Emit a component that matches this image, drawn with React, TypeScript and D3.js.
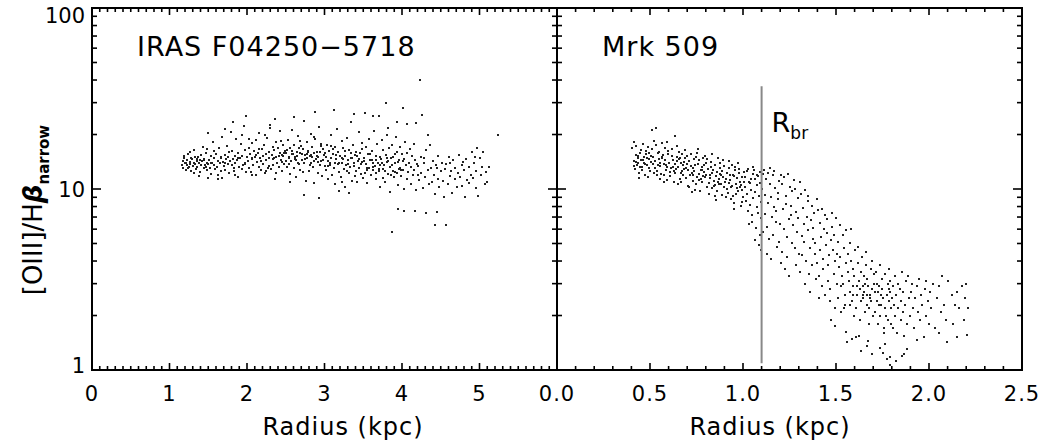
import React from 'react'
import * as d3 from 'd3'

// [OIII]/Hbeta narrow vs radius (kpc, ratio)
const irasPoints: [number, number][] = [
  [1.16,13.6],[1.17,14.2],[1.18,13.1],[1.19,14.8],[1.2,13.9],[1.21,12.8],[1.22,14.4],[1.23,13.5],[1.24,15.6],[1.25,13.2],
  [1.26,14.1],[1.27,13.7],[1.28,12.6],[1.29,14.6],[1.3,13.4],[1.31,14.0],[1.32,16.4],[1.33,13.8],[1.34,12.9],[1.35,14.3],
  [1.36,13.3],[1.37,15.1],[1.38,13.9],[1.39,14.5],[1.4,12.4],[1.41,13.6],[1.42,14.2],[1.43,17.1],[1.44,13.1],[1.45,14.7],
  [1.46,13.5],[1.47,15.8],[1.48,12.7],[1.49,14.0],[1.5,13.7],[1.17,13.0],[1.19,15.3],[1.21,14.0],[1.24,13.0],[1.26,16.1],
  [1.28,14.9],[1.31,12.2],[1.33,15.0],[1.36,14.6],[1.38,11.8],[1.41,15.4],[1.44,14.4],[1.47,13.2],[1.49,16.7],[1.5,20.4],
  [1.5,11.5],[1.68,11.5],[1.85,11.9],[1.72,21.4],[1.82,23.4],[1.99,25.3],[2.36,24.4],[2.3,22.6],
  [1.51,14.5],[1.52,13.0],[1.53,15.2],[1.54,12.1],[1.55,14.0],[1.56,18.2],[1.57,13.6],[1.58,14.8],[1.59,12.9],[1.6,15.6],
  [1.61,13.3],[1.62,14.3],[1.63,11.3],[1.64,16.9],[1.65,13.9],[1.66,14.9],[1.67,12.5],[1.68,19.4],[1.69,14.1],[1.7,13.4],
  [1.71,15.5],[1.72,12.8],[1.73,14.6],[1.74,17.3],[1.75,13.7],[1.76,15.0],[1.77,12.3],[1.78,14.2],[1.79,20.6],[1.8,13.5],
  [1.81,16.2],[1.82,14.7],[1.83,12.6],[1.84,15.3],[1.85,13.9],[1.86,18.8],[1.87,14.4],[1.88,11.6],[1.89,15.9],[1.9,13.2],
  [1.91,14.9],[1.92,17.7],[1.93,12.9],[1.94,15.2],[1.95,13.6],[1.96,22.3],[1.97,14.0],[1.98,16.5],[1.99,12.4],[2.0,15.1],
  [1.53,13.9],[1.58,16.3],[1.62,12.0],[1.67,15.1],[1.72,13.9],[1.77,16.0],[1.83,13.1],[1.88,14.8],[1.93,19.8],[1.98,13.8],
  [2.01,14.2],[2.02,16.8],[2.03,13.1],[2.04,15.7],[2.05,12.4],[2.06,17.9],[2.07,14.6],[2.08,13.5],[2.09,16.2],[2.1,15.0],
  [2.11,11.9],[2.12,18.6],[2.13,14.1],[2.14,15.9],[2.15,13.3],[2.16,20.4],[2.17,14.8],[2.18,12.7],[2.19,16.6],[2.2,15.3],
  [2.21,13.8],[2.22,17.4],[2.23,12.2],[2.24,15.6],[2.25,14.4],[2.26,19.1],[2.27,13.0],[2.28,16.1],[2.29,14.9],[2.3,21.8],
  [2.31,12.9],[2.32,15.4],[2.33,17.0],[2.34,13.6],[2.35,16.4],[2.36,11.4],[2.37,15.1],[2.38,18.2],[2.39,14.0],[2.4,16.9],
  [2.41,13.2],[2.42,15.8],[2.43,20.9],[2.44,14.5],[2.45,12.5],[2.46,17.6],[2.47,15.2],[2.48,13.7],[2.49,16.3],[2.5,14.3],
  [2.03,18.9],[2.07,12.0],[2.12,15.5],[2.18,14.3],[2.23,19.9],[2.28,13.4],[2.33,14.7],[2.38,12.3],[2.44,18.4],[2.48,15.9],
  [2.06,14.9],[2.15,16.7],[2.25,12.6],[2.35,14.9],[2.45,15.4],
  [2.51,16.4],[2.52,13.3],[2.53,18.7],[2.54,15.0],[2.55,12.1],[2.56,16.9],[2.57,14.2],[2.58,21.2],[2.59,15.6],[2.6,13.0],
  [2.61,17.5],[2.62,14.7],[2.63,11.6],[2.64,16.1],[2.65,15.3],[2.66,19.6],[2.67,13.7],[2.68,15.9],[2.69,12.8],[2.7,17.2],
  [2.71,14.4],[2.72,16.6],[2.73,23.9],[2.74,13.9],[2.75,15.5],[2.76,11.1],[2.77,18.1],[2.78,14.8],[2.79,16.3],[2.8,12.6],
  [2.81,15.2],[2.82,20.2],[2.83,14.0],[2.84,17.0],[2.85,13.2],[2.86,15.8],[2.87,10.8],[2.88,18.9],[2.89,14.6],[2.9,16.0],
  [2.91,12.2],[2.92,15.1],[2.93,22.1],[2.94,13.6],[2.95,17.8],[2.96,14.3],[2.97,11.8],[2.98,16.7],[2.99,15.4],[3.0,13.4],
  [2.54,13.8],[2.58,15.7],[2.63,14.5],[2.68,18.4],[2.72,12.4],[2.77,15.7],[2.81,13.5],[2.86,19.4],[2.91,14.1],[2.96,17.3],
  [2.56,10.9],[2.66,14.0],[2.74,9.3],[2.84,15.0],[2.93,8.9],[2.61,25.1],[2.88,26.6],
  [3.01,15.9],[3.02,12.7],[3.03,17.6],[3.04,14.2],[3.05,11.3],[3.06,16.3],[3.07,13.5],[3.08,19.9],[3.09,14.9],[3.1,12.0],
  [3.11,15.6],[3.12,13.1],[3.13,17.1],[3.14,10.6],[3.15,14.6],[3.16,21.5],[3.17,13.8],[3.18,16.0],[3.19,12.4],[3.2,15.2],
  [3.21,11.7],[3.22,18.5],[3.23,14.0],[3.24,16.8],[3.25,12.9],[3.26,15.3],[3.27,10.3],[3.28,13.6],[3.29,19.2],[3.3,14.5],
  [3.31,12.2],[3.32,16.4],[3.33,13.3],[3.34,23.5],[3.35,14.8],[3.36,11.1],[3.37,17.4],[3.38,13.9],[3.39,15.5],[3.4,12.5],
  [3.41,16.1],[3.42,10.9],[3.43,14.3],[3.44,20.7],[3.45,13.0],[3.46,15.8],[3.47,12.1],[3.48,17.9],[3.49,14.1],[3.5,11.5],
  [3.04,13.4],[3.09,17.2],[3.14,14.0],[3.19,9.8],[3.24,14.7],[3.29,12.6],[3.34,15.9],[3.39,11.8],[3.44,14.6],[3.49,16.7],
  [3.12,27.2],[3.38,26.1],[3.22,11.0],[3.31,9.5],
  [2.415,15.2],[2.455,14.1],[2.505,15.8],[2.545,14.9],[2.585,16.2],[2.625,15.0],[2.665,16.8],[2.705,15.6],[2.745,14.6],[2.785,16.0],
  [2.825,15.4],[2.865,14.2],[2.905,15.3],[2.945,16.1],[2.985,14.5],[3.025,15.1],[3.065,14.0],[3.105,16.7],[3.145,15.4],[3.185,13.9],
  [3.225,14.8],[3.265,16.2],[3.305,13.7],[3.345,14.9],[3.385,13.4],[3.425,15.2],[3.465,13.8],[3.505,14.3],[3.545,12.7],[3.585,15.7],
  [3.625,13.3],[3.665,14.5],[3.705,12.9],[3.745,13.9],[3.785,12.6],[3.825,14.3],[3.865,13.5],[3.905,12.4],[3.945,14.1],[3.985,12.7],
  [3.51,14.9],[3.52,12.3],[3.53,17.0],[3.54,13.7],[3.55,10.8],[3.56,15.6],[3.57,13.1],[3.58,19.0],[3.59,14.4],[3.6,11.9],
  [3.61,16.2],[3.62,12.8],[3.63,14.0],[3.64,21.0],[3.65,13.4],[3.66,15.3],[3.67,11.4],[3.68,17.7],[3.69,13.9],[3.7,12.5],
  [3.71,15.0],[3.72,10.2],[3.73,14.7],[3.74,18.6],[3.75,12.9],[3.76,16.5],[3.77,13.6],[3.78,11.0],[3.79,15.4],[3.8,14.1],
  [3.81,20.0],[3.82,12.1],[3.83,16.9],[3.84,13.3],[3.85,9.6],[3.86,14.8],[3.87,17.4],[3.88,12.6],[3.89,15.1],[3.9,11.6],
  [3.91,13.9],[3.92,19.5],[3.93,12.3],[3.94,16.0],[3.95,10.5],[3.96,14.4],[3.97,13.0],[3.98,17.1],[3.99,11.8],[4.0,15.7],
  [4.01,12.8],[4.02,14.6],[4.03,10.0],[4.04,18.2],[4.05,13.5],[4.06,11.3],[4.07,15.9],[4.08,12.4],[4.09,14.0],[4.1,16.6],
  [4.11,10.7],[4.12,13.2],[4.13,15.3],[4.14,11.9],[4.15,17.8],[4.16,12.7],[4.17,14.5],[4.18,9.9],[4.19,13.8],[4.2,12.0],
  [3.55,13.1],[3.61,14.4],[3.66,12.2],[3.71,13.6],[3.76,11.5],[3.81,14.9],[3.86,12.0],[3.91,15.6],[3.96,12.9],[4.01,14.2],
  [3.52,26.3],[3.63,25.3],[3.7,25.3],[3.79,29.8],[4.01,28.0],[4.26,25.6],[4.18,23.2],[4.06,22.9],[3.94,23.4],[3.82,21.7],
  [4.23,40.0],[3.87,5.8],[3.95,7.8],[4.03,7.6],[4.17,7.6],[4.31,7.4],[4.45,7.5],[4.43,6.3],[4.57,6.3],
  [4.21,13.4],[4.22,11.2],[4.24,15.0],[4.25,12.3],[4.27,10.1],[4.28,13.9],[4.3,11.6],[4.31,16.4],[4.33,12.7],[4.34,20.0],
  [4.35,10.6],[4.36,17.5],[4.37,13.1],[4.39,11.0],[4.4,14.3],[4.41,12.0],[4.43,9.4],[4.44,13.6],[4.46,11.4],[4.47,15.2],
  [4.48,10.3],[4.5,12.6],[4.51,14.0],[4.53,11.1],[4.54,9.0],[4.56,12.9],[4.57,13.8],[4.59,10.7],[4.6,15.1],[4.62,11.8],
  [4.63,12.5],[4.65,9.5],[4.66,14.4],[4.68,11.3],[4.69,13.0],[4.71,10.2],[4.72,12.2],[4.74,15.5],[4.75,11.6],[4.77,13.5],
  [4.78,10.4],[4.8,12.8],[4.81,9.0],[4.83,14.6],[4.84,11.2],[4.86,13.2],[4.87,10.8],[4.89,12.0],[4.9,16.0],[4.92,11.5],
  [4.93,13.9],[4.95,10.1],[4.96,12.6],[4.97,16.9],[4.98,9.2],[5.0,14.8],[5.02,11.9],[5.03,13.3],[5.05,16.0],[5.07,10.6],
  [5.09,12.4],[5.12,13.2],[5.1,11.0],[5.24,20.0],[4.29,14.8],[4.45,13.0],[4.62,13.9],[4.79,14.1],[4.94,15.0],
]

const mrkPoints: [number, number][] = [
  [0.412,14.2],[0.405,16.8],[0.418,12.9],[0.423,15.5],[0.416,18.1],[0.431,13.6],[0.427,17.2],[0.436,14.8],[0.441,12.3],[0.447,15.9],
  [0.438,13.9],[0.452,16.4],[0.456,12.7],[0.449,14.5],[0.463,17.8],[0.458,13.2],[0.467,15.1],[0.472,12.0],[0.469,14.0],[0.476,16.2],
  [0.483,13.5],[0.479,15.7],[0.487,11.7],[0.492,14.7],[0.488,17.0],[0.496,13.0],[0.503,15.3],[0.498,12.5],[0.507,14.1],[0.443,11.5],
  [0.414,13.4],[0.426,14.1],[0.434,15.2],[0.446,13.3],[0.461,14.4],[0.474,13.8],[0.485,14.9],[0.494,15.8],
  [0.512,16.6],[0.516,13.7],[0.509,21.2],[0.522,12.2],[0.518,15.0],[0.527,14.3],[0.533,17.5],[0.529,13.1],[0.531,21.7],[0.541,15.8],
  [0.537,12.6],[0.546,14.6],[0.552,11.4],[0.548,16.0],[0.556,13.4],[0.562,14.9],[0.558,12.1],[0.566,17.9],[0.573,13.8],[0.569,15.4],
  [0.577,11.9],[0.583,14.4],[0.579,16.9],[0.587,12.8],[0.592,13.3],[0.596,15.6],[0.589,11.2],[0.603,14.0],[0.598,16.3],[0.607,12.4],
  [0.524,18.5],[0.553,14.0],[0.574,10.9],[0.594,18.2],[0.535,12.0],[0.544,13.5],[0.564,15.1],[0.585,13.6],
  [0.613,13.0],[0.617,15.2],[0.609,11.8],[0.623,14.5],[0.619,16.7],[0.627,12.5],[0.632,19.6],[0.636,13.7],[0.629,11.0],[0.643,15.0],
  [0.639,12.9],[0.647,14.2],[0.652,10.6],[0.656,16.1],[0.649,13.3],[0.662,14.8],[0.666,12.2],[0.659,11.4],[0.672,15.7],[0.676,13.6],
  [0.669,10.9],[0.683,14.1],[0.679,12.0],[0.687,16.4],[0.692,13.1],[0.696,11.5],[0.689,14.9],[0.703,12.7],[0.698,15.3],[0.706,10.4],
  [0.624,13.3],[0.644,17.3],[0.664,13.9],[0.684,12.9],[0.701,13.8],[0.634,12.3],[0.654,14.6],[0.674,12.5],
  [0.712,14.2],[0.716,11.9],[0.709,10.2],[0.723,13.4],[0.719,15.6],[0.727,12.3],[0.732,11.1],[0.736,14.6],[0.729,13.0],[0.743,9.9],
  [0.739,12.6],[0.747,15.1],[0.752,11.7],[0.756,13.8],[0.749,10.6],[0.762,14.4],[0.766,12.1],[0.759,16.6],[0.773,11.4],[0.777,13.2],
  [0.769,9.7],[0.782,12.8],[0.786,14.9],[0.779,10.9],[0.793,13.5],[0.797,11.6],[0.789,12.4],[0.803,14.0],[0.806,10.3],[0.799,11.9],
  [0.724,9.6],[0.754,15.8],[0.774,12.7],[0.794,15.3],[0.744,13.6],[0.733,12.0],[0.764,11.2],[0.784,11.8],
  [0.812,12.9],[0.816,10.8],[0.809,14.6],[0.823,11.5],[0.819,9.4],[0.827,13.3],[0.832,12.2],[0.836,10.1],[0.829,14.1],[0.843,11.1],
  [0.839,12.7],[0.847,9.1],[0.852,13.6],[0.856,11.8],[0.849,10.5],[0.862,12.4],[0.866,14.9],[0.859,9.8],[0.873,11.3],[0.877,13.0],
  [0.869,10.7],[0.883,12.0],[0.887,9.3],[0.879,13.9],[0.892,11.6],[0.896,10.2],[0.889,12.6],[0.903,11.0],[0.898,13.4],[0.906,9.0],
  [0.834,15.6],[0.854,8.7],[0.874,12.1],[0.894,14.5],[0.844,10.4],[0.821,11.9],[0.864,11.0],[0.884,10.6],
  [0.912,12.3],[0.916,10.0],[0.909,11.4],[0.923,13.1],[0.919,9.5],[0.927,10.8],[0.932,12.0],[0.936,8.8],[0.929,11.2],[0.943,13.6],
  [0.939,10.4],[0.947,9.2],[0.952,11.8],[0.956,12.7],[0.949,8.4],[0.962,10.6],[0.966,11.5],[0.959,13.3],[0.973,9.7],[0.977,12.2],
  [0.969,10.1],[0.983,11.0],[0.987,8.1],[0.979,12.9],[0.992,9.9],[0.996,11.7],[0.989,10.5],[1.003,12.4],[0.998,9.0],[1.006,10.9],
  [0.924,14.3],[0.954,7.8],[0.974,13.9],[0.994,8.5],[0.944,11.9],[0.934,10.3],[0.964,9.4],[0.984,10.2],
  [1.012,11.6],[1.016,8.6],[1.009,10.2],[1.023,12.6],[1.019,9.4],[1.027,7.6],[1.032,11.0],[1.036,8.2],[1.029,12.9],[1.043,9.9],
  [1.039,10.8],[1.047,7.2],[1.052,12.1],[1.056,8.9],[1.049,6.6],[1.062,11.3],[1.066,9.6],[1.059,12.8],[1.073,8.0],[1.077,10.5],
  [1.069,6.1],[1.083,11.8],[1.087,9.1],[1.079,7.4],[1.092,12.4],[1.096,8.5],[1.089,5.6],[1.103,10.0],[1.098,6.9],[1.106,12.1],
  [1.034,6.4],[1.064,5.2],[1.084,4.9],[1.099,4.6],[1.054,13.3],[1.044,11.4],[1.074,12.0],[1.094,10.8],
  [1.112,12.7],[1.116,9.3],[1.109,5.8],[1.123,11.4],[1.119,7.3],[1.127,4.4],[1.132,12.2],[1.136,8.4],[1.129,6.2],[1.143,10.7],
  [1.139,5.3],[1.147,13.1],[1.152,9.0],[1.156,7.0],[1.149,4.1],[1.162,11.9],[1.166,8.0],[1.159,5.6],[1.173,10.1],[1.177,6.6],
  [1.169,12.5],[1.183,4.8],[1.187,9.5],[1.179,7.6],[1.192,11.1],[1.196,5.1],[1.189,8.8],[1.203,12.0],[1.198,6.4],[1.206,3.9],
  [1.212,10.6],[1.216,7.8],[1.209,4.5],[1.223,11.7],[1.219,6.0],[1.227,3.6],[1.232,9.2],[1.236,5.4],[1.229,8.3],[1.243,12.1],
  [1.239,4.2],[1.247,6.8],[1.252,10.3],[1.256,7.2],[1.249,3.3],[1.262,5.0],[1.266,9.7],[1.259,8.1],[1.273,11.2],[1.277,4.7],
  [1.269,6.3],[1.283,3.8],[1.287,7.5],[1.279,10.0],[1.292,5.8],[1.296,8.9],[1.303,4.4],[1.298,6.9],[1.306,11.0],
  [1.312,9.4],[1.316,5.5],[1.309,3.5],[1.323,7.9],[1.319,4.3],[1.327,6.4],[1.332,9.9],[1.336,3.0],[1.329,5.1],[1.343,7.0],
  [1.339,4.0],[1.347,8.6],[1.352,5.9],[1.356,3.4],[1.349,9.2],[1.362,4.7],[1.366,6.7],[1.359,2.7],[1.373,8.1],[1.377,5.3],
  [1.369,3.8],[1.383,7.4],[1.387,4.4],[1.379,6.1],[1.392,3.2],[1.396,8.8],[1.389,5.0],[1.403,7.7],[1.398,3.9],[1.406,2.5],
  [1.412,6.5],[1.416,4.6],[1.409,3.3],[1.423,7.8],[1.419,5.4],[1.427,2.9],[1.432,4.1],[1.436,6.0],[1.429,3.6],[1.443,7.2],
  [1.439,2.6],[1.447,4.9],[1.452,5.7],[1.456,3.1],[1.449,6.8],[1.462,4.3],[1.466,2.4],[1.459,3.8],[1.473,5.2],[1.477,7.4],
  [1.469,2.8],[1.483,4.6],[1.487,3.4],[1.479,6.2],[1.492,2.2],[1.496,4.0],[1.489,5.6],[1.503,3.0],[1.498,6.9],[1.506,4.4],
  [1.474,1.9],[1.497,1.75],
  [1.512,5.1],[1.516,3.7],[1.509,2.5],[1.523,6.3],[1.519,4.2],[1.527,2.9],[1.532,3.3],[1.536,5.6],[1.529,2.1],[1.543,4.7],
  [1.539,3.0],[1.547,2.6],[1.552,5.9],[1.556,3.9],[1.549,2.3],[1.562,4.4],[1.566,3.5],[1.559,1.43],[1.573,2.7],[1.577,5.0],
  [1.569,3.1],[1.583,4.0],[1.587,2.4],[1.579,6.0],[1.592,3.6],[1.596,2.0],[1.589,2.9],[1.603,4.6],[1.598,3.3],[1.606,1.52],
  [1.554,1.62],[1.584,1.48],[1.544,2.2],[1.574,2.3],[1.594,2.6],
  [1.612,2.6],[1.616,3.9],[1.609,2.2],[1.623,3.1],[1.619,4.8],[1.627,2.8],[1.632,2.4],[1.636,3.5],[1.629,1.9],[1.643,2.9],
  [1.639,4.2],[1.647,2.5],[1.652,3.3],[1.656,2.1],[1.649,2.7],[1.662,3.8],[1.666,2.3],[1.659,4.5],[1.673,2.9],[1.677,1.8],
  [1.669,3.2],[1.683,2.6],[1.687,3.6],[1.679,2.2],[1.692,2.8],[1.696,4.0],[1.689,2.4],[1.703,3.0],[1.698,2.0],[1.706,3.4],
  [1.634,1.28],[1.664,1.35],[1.694,1.22],[1.624,1.55],[1.674,1.45],[1.614,2.9],[1.644,2.6],[1.654,3.0],[1.684,2.5],[1.667,2.6],
  [1.712,2.7],[1.716,3.5],[1.709,2.1],[1.723,2.4],[1.719,3.0],[1.727,1.8],[1.732,2.9],[1.736,3.8],[1.729,2.3],[1.743,2.6],
  [1.739,2.0],[1.747,3.2],[1.752,2.5],[1.756,1.7],[1.749,2.8],[1.762,3.4],[1.766,2.2],[1.759,1.6],[1.773,2.6],[1.777,3.0],
  [1.769,2.0],[1.783,2.4],[1.787,3.6],[1.779,1.9],[1.793,2.7],[1.797,2.2],[1.789,3.1],[1.803,2.5],[1.798,1.8],[1.806,2.9],
  [1.734,1.32],[1.754,1.24],[1.774,1.15],[1.792,1.18],[1.788,1.07],[1.764,1.4],[1.724,2.7],[1.744,2.3],[1.784,2.8],
  [1.812,2.3],[1.816,3.3],[1.809,1.7],[1.823,2.6],[1.819,2.0],[1.832,3.0],[1.836,2.2],[1.829,1.6],[1.843,2.8],[1.847,1.9],
  [1.852,2.4],[1.856,3.5],[1.862,2.1],[1.866,1.55],[1.859,2.7],[1.873,2.3],[1.877,3.1],[1.883,1.8],[1.887,3.3],[1.892,2.5],
  [1.896,2.0],[1.903,2.7],[1.824,1.12],[1.854,1.2],[1.864,1.22],[1.884,1.3],
  [1.912,2.2],[1.906,3.0],[1.921,1.7],[1.926,2.5],[1.933,1.46],[1.937,2.9],[1.942,2.1],[1.946,3.2],[1.952,1.9],[1.957,2.6],
  [1.963,2.3],[1.971,1.53],[1.976,2.8],[1.982,2.0],[1.986,3.1],[1.993,2.4],[2.001,1.8],[2.004,2.7],
  [2.012,2.2],[2.021,3.0],[2.032,1.7],[2.041,2.5],[2.052,1.6],[2.056,2.9],[2.063,2.1],[2.072,3.3],[2.081,2.3],[2.093,1.9],
  [2.101,3.1],[2.097,1.43],
  [2.122,2.6],[2.131,1.8],[2.142,2.3],[2.151,2.7],[2.148,1.53],[2.163,2.2],[2.178,2.9],[2.188,1.9],[2.196,2.5],[2.204,1.57],
  [2.212,2.2],[2.201,3.0],
]

const breakRadius = 1.1
const breakRange: [number, number] = [1.09, 37]

const leftTicks = [0, 1, 2, 3, 4, 5]
const rightTicks = [0, 0.5, 1, 1.5, 2, 2.5]
const yTicks = [1, 10, 100]

const W = 1045
const H = 446
const top = 8
const bottom = 370
const x0 = 92
const xm = 557
const x1 = 1022
const FONT = '"DejaVu Sans", sans-serif'

function Panel({ x, minorStep, majors, fmt, pts, showYLabels, title, titleX }) {
  const y = d3.scaleLog().domain([1, 100]).range([bottom, top])
  const [a, b] = x.range()
  const minors = d3.range(x.domain()[0], x.domain()[1] + 1e-9, minorStep)
  const yMinors = [1, 10].flatMap(d => d3.range(2, 10).map(k => d * k))
  const majorLen = 9
  const minorLen = 5
  const lines = []
  minors.forEach((v, i) => {
    const px = x(v)
    const isMajor = majors.some(m => Math.abs(m - v) < 1e-6)
    const len = isMajor ? majorLen - 2 : minorLen - 1
    lines.push(<line key={'b' + i} x1={px} x2={px} y1={bottom} y2={bottom - len} />)
    lines.push(<line key={'t' + i} x1={px} x2={px} y1={top} y2={top + len} />)
  })
  yTicks.concat(yMinors).forEach((v, i) => {
    const py = y(v)
    const len = yTicks.includes(v) ? majorLen : minorLen
    lines.push(<line key={'l' + i} x1={a} x2={a + len} y1={py} y2={py} />)
    lines.push(<line key={'r' + i} x1={b} x2={b - len} y1={py} y2={py} />)
  })
  // IDL puts the top label just inside the plot region
  const yLabelBase = { 1: 373, 10: 197, 100: 23 }
  return (
    <g>
      {pts.map((p, i) => (
        <rect key={i} x={Math.round(x(p[0])) - 1} y={Math.round(y(p[1])) - 1} width={2} height={2} fill="#222" />
      ))}
      <g stroke="#000" strokeWidth={1.6}>{lines}</g>
      <rect x={a} y={top} width={b - a} height={bottom - top} fill="none" stroke="#000" strokeWidth={2} />
      {majors.map(m => (
        <text key={m} x={x(m)} y={401} textAnchor="middle" fontSize={21} fontFamily={FONT} letterSpacing={1}>{fmt(m)}</text>
      ))}
      {showYLabels && yTicks.map(v => (
        <text key={v} x={a - 7} y={yLabelBase[v]} textAnchor="end" fontSize={21} fontFamily={FONT}>{v}</text>
      ))}
      <text x={titleX} y={435} textAnchor="middle" fontSize={24} fontFamily={FONT} letterSpacing={1}>Radius (kpc)</text>
      <text x={a + 45} y={56} fontSize={27} fontFamily={FONT} letterSpacing={1}>{title}</text>
    </g>
  )
}

export default function App() {
  const xl = d3.scaleLinear().domain([0, 6]).range([x0, xm])
  const xr = d3.scaleLinear().domain([0, 2.5]).range([xm, x1])
  const y = d3.scaleLog().domain([1, 100]).range([bottom, top])
  return (
    <svg width={W} height={H} style={{ position: 'absolute', left: 0, top: 0, background: '#fff' }}>
      <Panel x={xl} minorStep={0.1} majors={leftTicks} fmt={d => String(d)} pts={irasPoints} showYLabels title="IRAS F04250−5718" titleX={343} />
      <Panel x={xr} minorStep={0.1} majors={rightTicks} fmt={d3.format('.1f')} pts={mrkPoints} showYLabels={false} title="Mrk 509" titleX={770} />
      <line x1={xr(breakRadius)} x2={xr(breakRadius)} y1={y(breakRange[1])} y2={y(breakRange[0])} stroke="#888" strokeWidth={2} />
      <text x={xr(breakRadius) + 10} y={132} fontSize={27} fontFamily={FONT}>R<tspan fontSize={17} dy={7}>br</tspan></text>
      <text transform="translate(42,210) rotate(-90)" textAnchor="middle" fontSize={26} fontFamily={FONT}>
        [OIII]/H<tspan fontWeight="bold" fontStyle="italic">β</tspan><tspan fontSize={15} fontWeight="bold" dy={7}>narrow</tspan>
      </text>
    </svg>
  )
}
